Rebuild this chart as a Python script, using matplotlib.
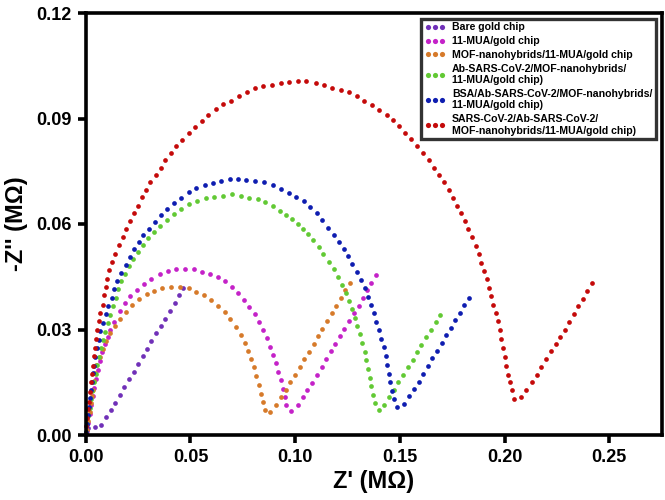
import matplotlib.pyplot as plt

# Nyquist data (Z' , -Z'') in MOhm
bare = [(0.0000, 0.0003), (0.0011, 0.0019), (0.0043, 0.0022), (0.0075, 0.0029), (0.0096, 0.0050),
        (0.0119, 0.0071), (0.0140, 0.0092), (0.0162, 0.0113), (0.0183, 0.0137), (0.0205, 0.0158),
        (0.0228, 0.0180), (0.0248, 0.0201), (0.0271, 0.0225), (0.0291, 0.0245), (0.0312, 0.0267),
        (0.0336, 0.0289), (0.0357, 0.0309), (0.0379, 0.0331), (0.0401, 0.0354), (0.0424, 0.0376),
        (0.0443, 0.0398), (0.0465, 0.0418)]

mua = [(0.0005, 0.0010), (0.0012, 0.0035), (0.0019, 0.0060), (0.0026, 0.0085), (0.0033, 0.0110),
       (0.0040, 0.0135), (0.0048, 0.0160), (0.0057, 0.0185), (0.0067, 0.0210), (0.0078, 0.0235),
       (0.0090, 0.0258), (0.0104, 0.0280), (0.0118, 0.0300), (0.0135, 0.0322), (0.0162, 0.0354),
       (0.0186, 0.0376), (0.0213, 0.0395), (0.0245, 0.0412), (0.0277, 0.0429), (0.0312, 0.0444),
       (0.0353, 0.0457), (0.0393, 0.0465), (0.0433, 0.0472), (0.0474, 0.0472), (0.0516, 0.0471),
       (0.0554, 0.0464), (0.0592, 0.0459), (0.0632, 0.0449), (0.0664, 0.0437), (0.0696, 0.0421),
       (0.0727, 0.0404), (0.0754, 0.0385), (0.0780, 0.0365), (0.0807, 0.0343), (0.0828, 0.0321),
       (0.0847, 0.0299), (0.0866, 0.0275), (0.0882, 0.0251), (0.0894, 0.0228), (0.0909, 0.0205),
       (0.0920, 0.0180), (0.0931, 0.0155), (0.0942, 0.0131), (0.0950, 0.0107), (0.0958, 0.0084),
       (0.0982, 0.0067), (0.1014, 0.0084), (0.1038, 0.0107), (0.1058, 0.0129), (0.1082, 0.0149),
       (0.1106, 0.0171), (0.1128, 0.0194), (0.1149, 0.0216), (0.1170, 0.0238), (0.1192, 0.0260),
       (0.1213, 0.0281), (0.1235, 0.0302), (0.1257, 0.0324), (0.1280, 0.0346), (0.1304, 0.0368),
       (0.1324, 0.0389), (0.1345, 0.0411), (0.1364, 0.0433), (0.1386, 0.0455)]

mof = [(0.0005, 0.0015), (0.0012, 0.0040), (0.0018, 0.0065), (0.0023, 0.0090), (0.0028, 0.0110),
       (0.0035, 0.0129), (0.0040, 0.0153), (0.0043, 0.0176), (0.0051, 0.0200), (0.0067, 0.0222),
       (0.0080, 0.0245), (0.0096, 0.0267), (0.0115, 0.0290), (0.0138, 0.0310), (0.0162, 0.0330),
       (0.0191, 0.0350), (0.0221, 0.0369), (0.0255, 0.0386), (0.0290, 0.0400), (0.0325, 0.0410),
       (0.0366, 0.0417), (0.0406, 0.0422), (0.0449, 0.0421), (0.0492, 0.0418), (0.0528, 0.0408),
       (0.0565, 0.0397), (0.0600, 0.0384), (0.0632, 0.0367), (0.0664, 0.0350), (0.0690, 0.0329),
       (0.0716, 0.0308), (0.0739, 0.0285), (0.0759, 0.0262), (0.0775, 0.0240), (0.0791, 0.0216),
       (0.0802, 0.0192), (0.0815, 0.0169), (0.0826, 0.0143), (0.0836, 0.0117), (0.0847, 0.0093),
       (0.0858, 0.0071), (0.0882, 0.0064), (0.0910, 0.0086), (0.0934, 0.0107), (0.0955, 0.0129),
       (0.0977, 0.0150), (0.1001, 0.0171), (0.1022, 0.0193), (0.1044, 0.0216), (0.1066, 0.0237),
       (0.1089, 0.0259), (0.1109, 0.0281), (0.1130, 0.0302), (0.1152, 0.0324), (0.1175, 0.0346),
       (0.1197, 0.0367), (0.1218, 0.0389), (0.1240, 0.0411), (0.1261, 0.0432)]

ab = [(0.0002, 0.0008), (0.0006, 0.0030), (0.0012, 0.0054), (0.0018, 0.0078), (0.0025, 0.0102),
      (0.0032, 0.0126), (0.0039, 0.0150), (0.0047, 0.0174), (0.0055, 0.0198), (0.0064, 0.0222),
      (0.0073, 0.0246), (0.0083, 0.0270), (0.0094, 0.0294), (0.0105, 0.0318), (0.0117, 0.0342),
      (0.0129, 0.0366), (0.0142, 0.0390), (0.0156, 0.0414), (0.0170, 0.0437), (0.0186, 0.0459),
      (0.0207, 0.0481), (0.0226, 0.0500), (0.0250, 0.0521), (0.0274, 0.0541), (0.0298, 0.0559),
      (0.0325, 0.0576), (0.0353, 0.0595), (0.0388, 0.0612), (0.0422, 0.0629), (0.0457, 0.0643),
      (0.0493, 0.0657), (0.0532, 0.0666), (0.0573, 0.0673), (0.0614, 0.0678), (0.0656, 0.0681),
      (0.0697, 0.0685), (0.0739, 0.0680), (0.0778, 0.0675), (0.0820, 0.0670), (0.0858, 0.0662),
      (0.0894, 0.0651), (0.0926, 0.0638), (0.0956, 0.0627), (0.0985, 0.0615), (0.1012, 0.0601),
      (0.1038, 0.0587), (0.1062, 0.0571), (0.1086, 0.0554), (0.1113, 0.0536), (0.1135, 0.0514),
      (0.1160, 0.0493), (0.1183, 0.0471), (0.1203, 0.0449), (0.1223, 0.0427), (0.1242, 0.0405),
      (0.1257, 0.0381), (0.1272, 0.0357), (0.1285, 0.0333), (0.1297, 0.0310), (0.1310, 0.0286),
      (0.1321, 0.0262), (0.1332, 0.0237), (0.1340, 0.0212), (0.1348, 0.0188), (0.1356, 0.0163),
      (0.1364, 0.0138), (0.1372, 0.0114), (0.1380, 0.0090), (0.1401, 0.0071), (0.1425, 0.0084),
      (0.1448, 0.0107), (0.1470, 0.0128), (0.1492, 0.0150), (0.1515, 0.0171), (0.1539, 0.0193),
      (0.1563, 0.0214), (0.1584, 0.0235), (0.1603, 0.0257), (0.1624, 0.0278), (0.1648, 0.0300),
      (0.1671, 0.0321), (0.1693, 0.0341)]

bsa = [(0.0002, 0.0008), (0.0006, 0.0032), (0.0011, 0.0056), (0.0016, 0.0080), (0.0021, 0.0104),
       (0.0026, 0.0128), (0.0031, 0.0152), (0.0035, 0.0175), (0.0038, 0.0197), (0.0046, 0.0222),
       (0.0054, 0.0247), (0.0064, 0.0271), (0.0070, 0.0295), (0.0083, 0.0319), (0.0096, 0.0343),
       (0.0107, 0.0367), (0.0123, 0.0390), (0.0137, 0.0414), (0.0151, 0.0438), (0.0170, 0.0462),
       (0.0190, 0.0484), (0.0210, 0.0505), (0.0231, 0.0529), (0.0253, 0.0549), (0.0274, 0.0569),
       (0.0302, 0.0586), (0.0330, 0.0607), (0.0357, 0.0626), (0.0388, 0.0643), (0.0422, 0.0659),
       (0.0457, 0.0673), (0.0492, 0.0690), (0.0528, 0.0702), (0.0568, 0.0710), (0.0608, 0.0716),
       (0.0648, 0.0723), (0.0688, 0.0729), (0.0727, 0.0729), (0.0767, 0.0726), (0.0810, 0.0723),
       (0.0851, 0.0719), (0.0892, 0.0711), (0.0930, 0.0700), (0.0969, 0.0689), (0.1006, 0.0678),
       (0.1040, 0.0664), (0.1072, 0.0648), (0.1102, 0.0630), (0.1130, 0.0610), (0.1157, 0.0590),
       (0.1184, 0.0569), (0.1210, 0.0549), (0.1232, 0.0530), (0.1254, 0.0508), (0.1273, 0.0486),
       (0.1294, 0.0464), (0.1313, 0.0441), (0.1332, 0.0417), (0.1348, 0.0393), (0.1361, 0.0370),
       (0.1375, 0.0346), (0.1388, 0.0322), (0.1401, 0.0298), (0.1412, 0.0273), (0.1425, 0.0249),
       (0.1435, 0.0224), (0.1440, 0.0199), (0.1448, 0.0174), (0.1455, 0.0150), (0.1464, 0.0126),
       (0.1472, 0.0102), (0.1487, 0.0081), (0.1519, 0.0089), (0.1544, 0.0110), (0.1568, 0.0131),
       (0.1590, 0.0152), (0.1611, 0.0174), (0.1635, 0.0197), (0.1655, 0.0218), (0.1677, 0.0240),
       (0.1700, 0.0262), (0.1722, 0.0283), (0.1743, 0.0304), (0.1765, 0.0326), (0.1786, 0.0348),
       (0.1808, 0.0370), (0.1830, 0.0390)]

sars = [(0.0000, 0.0003), (0.0003, 0.0025), (0.0006, 0.0049), (0.0011, 0.0073), (0.0016, 0.0095),
        (0.0021, 0.0122), (0.0027, 0.0150), (0.0032, 0.0174), (0.0035, 0.0197), (0.0038, 0.0224),
        (0.0043, 0.0248), (0.0051, 0.0273), (0.0054, 0.0298), (0.0064, 0.0324), (0.0070, 0.0348),
        (0.0080, 0.0371), (0.0086, 0.0397), (0.0096, 0.0421), (0.0102, 0.0445), (0.0111, 0.0469),
        (0.0123, 0.0492), (0.0138, 0.0516), (0.0158, 0.0540), (0.0178, 0.0563), (0.0194, 0.0586),
        (0.0210, 0.0609), (0.0231, 0.0631), (0.0250, 0.0652), (0.0269, 0.0676), (0.0287, 0.0698),
        (0.0309, 0.0719), (0.0334, 0.0740), (0.0357, 0.0760), (0.0380, 0.0781), (0.0406, 0.0802),
        (0.0433, 0.0822), (0.0461, 0.0840), (0.0492, 0.0858), (0.0522, 0.0875), (0.0554, 0.0892),
        (0.0584, 0.0910), (0.0621, 0.0927), (0.0656, 0.0940), (0.0694, 0.0951), (0.0731, 0.0963),
        (0.0769, 0.0975), (0.0807, 0.0986), (0.0847, 0.0992), (0.0888, 0.0996), (0.0930, 0.1000),
        (0.0971, 0.1003), (0.1014, 0.1007), (0.1053, 0.1007), (0.1097, 0.1000), (0.1137, 0.0994),
        (0.1178, 0.0988), (0.1218, 0.0982), (0.1258, 0.0976), (0.1296, 0.0965), (0.1329, 0.0951),
        (0.1368, 0.0938), (0.1401, 0.0924), (0.1436, 0.0910), (0.1467, 0.0896), (0.1497, 0.0878),
        (0.1525, 0.0860), (0.1555, 0.0841), (0.1583, 0.0823), (0.1611, 0.0803), (0.1638, 0.0782),
        (0.1664, 0.0760), (0.1686, 0.0740), (0.1710, 0.0719), (0.1734, 0.0697), (0.1754, 0.0675),
        (0.1773, 0.0652), (0.1791, 0.0630), (0.1810, 0.0608), (0.1826, 0.0586), (0.1842, 0.0562),
        (0.1861, 0.0538), (0.1878, 0.0514), (0.1889, 0.0490), (0.1903, 0.0467), (0.1917, 0.0443),
        (0.1927, 0.0419), (0.1937, 0.0395), (0.1945, 0.0370), (0.1961, 0.0348), (0.1969, 0.0324),
        (0.1977, 0.0300), (0.1985, 0.0274), (0.1993, 0.0248), (0.2001, 0.0222), (0.2009, 0.0197),
        (0.2017, 0.0171), (0.2025, 0.0150), (0.2033, 0.0129), (0.2045, 0.0102), (0.2077, 0.0108),
        (0.2104, 0.0129), (0.2131, 0.0150), (0.2155, 0.0171), (0.2176, 0.0193), (0.2200, 0.0216),
        (0.2221, 0.0238), (0.2243, 0.0260), (0.2264, 0.0279), (0.2288, 0.0300), (0.2308, 0.0322),
        (0.2330, 0.0345), (0.2351, 0.0367), (0.2372, 0.0388), (0.2394, 0.0410), (0.2418, 0.0431)]

labels = ['Bare gold chip',
          '11-MUA/gold chip',
          'MOF-nanohybrids/11-MUA/gold chip',
          'Ab-SARS-CoV-2/MOF-nanohybrids/\n11-MUA/gold chip)',
          'BSA/Ab-SARS-CoV-2/MOF-nanohybrids/\n11-MUA/gold chip)',
          'SARS-CoV-2/Ab-SARS-CoV-2/\nMOF-nanohybrids/11-MUA/gold chip)']
colors = ['#7030B8', '#C422C8', '#D67A2A', '#62C934', '#0E1DB0', '#C40A0A']
series = [bare, mua, mof, ab, bsa, sars]

x_ticks = [0.00, 0.05, 0.10, 0.15, 0.20, 0.25]
y_ticks = [0.00, 0.03, 0.06, 0.09, 0.12]

plt.rcParams['font.family'] = ['Liberation Sans', 'DejaVu Sans']
plt.rcParams['font.weight'] = 'bold'

fig = plt.figure(figsize=(6.65, 5.0), dpi=100)
ax = fig.add_axes([0.129, 0.13, 0.866, 0.844])

for pts, c, lab in zip(series, colors, labels):
    xs = [p[0] for p in pts]
    ys = [p[1] for p in pts]
    ax.plot(xs, ys, linestyle='none', marker='o', markersize=3.4,
            markeredgewidth=0, color=c, label=lab, clip_on=False)

ax.set_xlim(0, 0.275)
ax.set_ylim(0, 0.12)
ax.set_xticks(x_ticks)
ax.set_yticks(y_ticks)
ax.set_xticklabels([f'{v:.2f}' for v in x_ticks])
ax.set_yticklabels([f'{v:.2f}' for v in y_ticks])

for s in ax.spines.values():
    s.set_linewidth(2.6)
ax.tick_params(direction='out', length=6, width=2.6, labelsize=13, pad=4)
for t in ax.get_xticklabels() + ax.get_yticklabels():
    t.set_fontweight('bold')

ax.set_xlabel("Z' (M\u03a9)", fontsize=17, fontweight='bold', labelpad=3)
ax.set_ylabel("-Z'' (M\u03a9)", fontsize=17, fontweight='bold', labelpad=6)

leg = ax.legend(loc='upper right', numpoints=3, fontsize=7.6, frameon=True,
                fancybox=False, borderaxespad=0.55, handlelength=2.0,
                handletextpad=0.6, labelspacing=0.35, borderpad=0.35,
                markerscale=1.1)
leg.get_frame().set_edgecolor('black')
leg.get_frame().set_linewidth(2.4)
for t in leg.get_texts():
    t.set_fontweight('bold')

fig.savefig('out.png', dpi=100)
